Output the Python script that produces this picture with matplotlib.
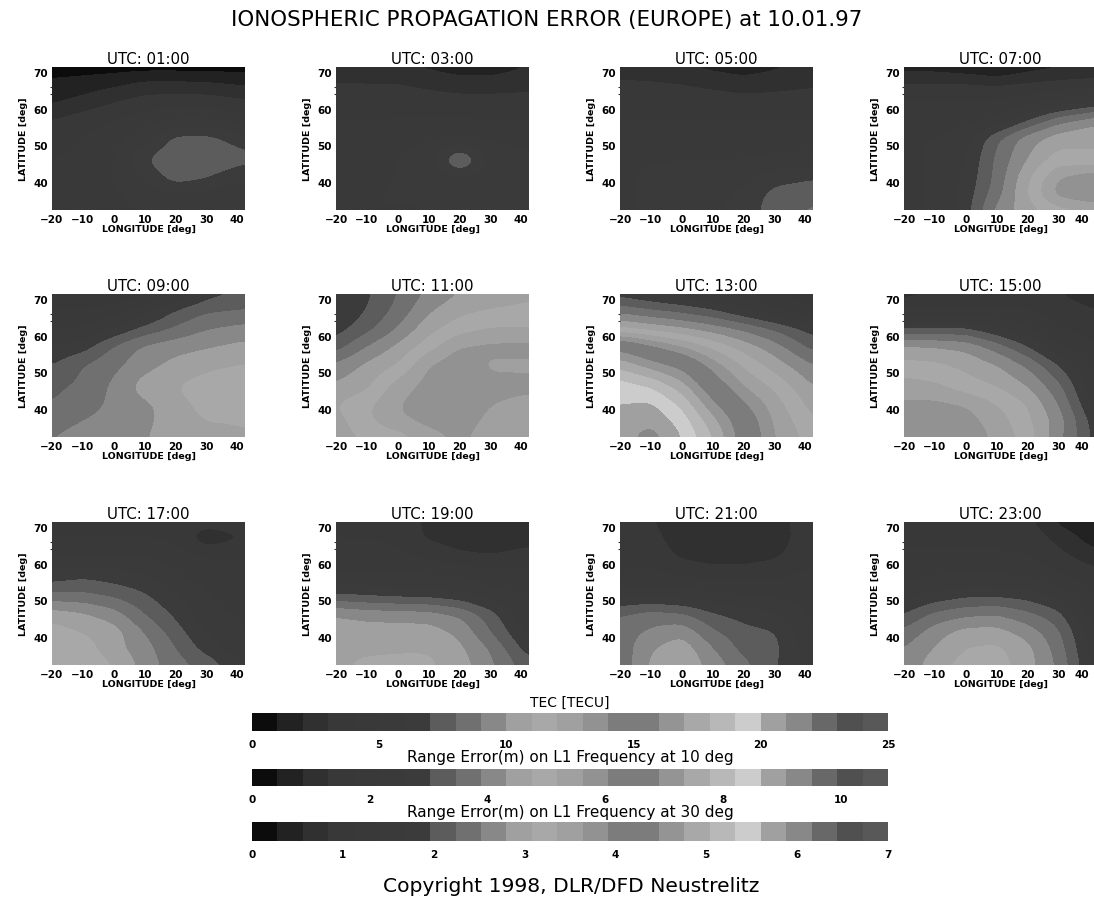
import numpy as np
import matplotlib
matplotlib.use("Agg")
import matplotlib.pyplot as plt
from matplotlib.colors import ListedColormap, BoundaryNorm

W, H = 1094, 903

# grid of the TEC maps
lons = [-20, -10, 0, 10, 20, 30, 42.5]
lats = [71.4, 67, 62, 57, 52, 46, 41, 37, 32.4]

tec_01 = [[.5, .5, .5, .5, .5, .5, .5],
          [1.2, 1.4, 1.7, 2.2, 2.2, 2.1, 1.8],
          [1.8, 2.3, 2.9, 3.4, 3.5, 3.5, 3.1],
          [3.0, 3.5, 4.0, 4.5, 5, 5, 4.5],
          [3.6, 4, 4.5, 5.5, 7.3, 7.4, 6.4],
          [4, 4.3, 5, 7.0, 7.9, 7.9, 7.4],
          [4.2, 4.5, 5, 6, 7.5, 7.0, 5.8],
          [4, 4.3, 4.8, 5.4, 5.8, 5.7, 5.4],
          [4, 4.2, 4.6, 5, 5.2, 5.2, 5.5]]
tec_03 = [[2.4, 2.2, 2.0, 1.8, 1.5, 1.5, 2.0],
          [3, 3, 3, 2.7, 2.4, 2.4, 2.6],
          [3.6, 3.6, 3.6, 3.5, 3.4, 3.4, 3.4],
          [4, 4, 4, 4, 4, 4, 4],
          [4.4, 4.5, 4.6, 4.8, 5, 4.8, 4.6],
          [4.6, 4.8, 5, 5.6, 8.4, 5.8, 5.2],
          [5, 5, 5, 5.2, 5.6, 5.5, 5],
          [5, 5, 5, 5, 5.2, 5.2, 5],
          [5, 5, 5, 5, 5, 5, 5]]
tec_05 = [[2.6, 2.4, 2, 1.7, 1.5, 1.8, 2.2],
          [3.1, 3.1, 3, 2.7, 2.4, 2.6, 2.8],
          [3.5, 3.5, 3.5, 3.5, 3.4, 3.4, 3.5],
          [4, 4, 4, 4, 4, 4, 4],
          [4.5, 4.5, 4.5, 4.5, 4.5, 4.5, 4.5],
          [5, 5, 5, 5, 5, 5.2, 5.4],
          [5, 5, 5.2, 5.4, 5.6, 6.6, 7.0],
          [5, 5, 5.2, 5.6, 6.2, 7.3, 7.5],
          [5, 5, 5.4, 5.8, 6.4, 7.5, 8.2]]
tec_07 = [[1.5, 1.5, 1.2, .8, 1.5, 1.8, 2],
          [3, 3, 3, 2.8, 3, 3.2, 3.4],
          [4, 4, 4, 4, 4.5, 5, 6],
          [4.5, 4.5, 4.6, 5, 6.8, 8.5, 9.5],
          [5, 5, 5.5, 7.8, 9.5, 10.5, 11],
          [5, 5, 6, 8.2, 10, 11.5, 11],
          [5, 5, 6.2, 8.3, 10.8, 13, 14],
          [5, 5, 6.4, 8.5, 11, 13.5, 14.2],
          [5, 5, 6.5, 9.3, 10.5, 11.5, 12]]
tec_09 = [[3, 3, 3, 3.5, 5, 6.5, 7.2],
          [4, 4, 4.5, 5.5, 7, 7.8, 8],
          [5, 5, 6, 7.2, 8.1, 8.9, 9.3],
          [6, 6.5, 8.1, 9.2, 9.6, 9.9, 10.3],
          [7, 8, 8.7, 9.6, 10.3, 10.7, 11],
          [7.8, 8.2, 9.2, 10.5, 11, 11.5, 12.2],
          [8, 8.6, 9.2, 9.7, 10.6, 11.3, 11.5],
          [8.6, 9, 9.3, 9.7, 10.6, 11, 11],
          [9, 9.3, 9.5, 9.9, 10.6, 10.8, 11]]
tec_11 = [[6, 6.8, 8, 9.2, 10, 10.5, 10.8],
          [6, 7, 8.3, 9.8, 10.7, 11, 11.2],
          [6.5, 7.6, 9, 10.6, 11.5, 12, 12],
          [7.5, 9, 10.2, 11.5, 13, 13.3, 13.3],
          [9.2, 10.2, 11, 13, 13.7, 12.8, 12.8],
          [10.2, 10.8, 12.5, 13.4, 13.5, 13.4, 13.3],
          [11, 11.8, 13, 13.5, 13.5, 13, 12.5],
          [10.6, 11.8, 12.8, 13.3, 13.4, 12.8, 12],
          [10.4, 11.2, 11.4, 12.6, 13.2, 12.5, 12]]
tec_13 = [[6.5, 6, 5.5, 5, 4.5, 4, 3.5],
          [8.5, 8, 7.6, 7, 6, 5, 4],
          [11, 10.5, 10, 9.4, 8.7, 7.8, 6.5],
          [15.5, 14.2, 13, 11.7, 10.5, 9.4, 7.6],
          [17.6, 16.5, 15.5, 13.5, 11.8, 10.5, 9],
          [19.6, 19, 17.5, 15, 13, 11.8, 10],
          [20, 20.2, 18.8, 16.3, 14.2, 12.5, 10.6],
          [20.3, 20.7, 19.5, 17.3, 15, 12.8, 11],
          [20.5, 21.5, 20, 18, 15.3, 13, 11.5]]
tec_15 = [[2.6, 3, 3.5, 3.5, 3.5, 3, 2.4],
          [4, 4, 4, 4, 4, 3.5, 3],
          [7, 7, 7, 6, 5, 4, 3.5],
          [10.2, 10, 9.7, 8.5, 7, 5, 4],
          [11.3, 11.2, 10.7, 10, 8.8, 7, 4.5],
          [12.5, 12.2, 11.5, 11, 10, 8.3, 5],
          [13.2, 13.3, 13, 12, 11, 9, 5.5],
          [13.4, 13.6, 13.4, 12.5, 11.2, 9.5, 6.2],
          [13.4, 13.7, 13.6, 12.8, 11.5, 9.3, 6.5]]
tec_17 = [[3.5, 3.5, 3.5, 3.5, 3.5, 3.5, 3.5],
          [4, 4, 4, 4, 3.8, 2.2, 3.0],
          [5, 5, 5, 5, 4.5, 4, 4],
          [6.3, 6.7, 6.4, 6, 5, 4.5, 4.2],
          [8, 8, 7.6, 7, 6, 5, 4.5],
          [10.6, 10.2, 9.5, 8, 6.8, 5.3, 4.8],
          [11.5, 11, 10.5, 9, 7.5, 6, 5],
          [11.8, 11.5, 10.3, 9.4, 8, 6.5, 5],
          [12, 11.8, 11, 9.6, 8.4, 7.7, 6]]
tec_19 = [[3.5, 3.5, 3.5, 2.8, 2.5, 2.4, 2.6],
          [4, 4, 3.8, 2.8, 2.5, 2.4, 2.6],
          [4.5, 4.5, 4.2, 3.8, 3.2, 3, 3.4],
          [5, 5, 5, 5, 4.8, 4.5, 4.5],
          [6.8, 6.6, 6.4, 6.3, 6, 5.2, 4.8],
          [10, 9.7, 9.6, 9.5, 8.9, 7.5, 5],
          [10.6, 10.5, 10.5, 10.5, 9.8, 8, 5.8],
          [10.8, 10.8, 10.9, 10.9, 10.2, 8.9, 6.4],
          [10.8, 11.2, 11.2, 11.2, 10.5, 9.2, 7.4]]
tec_21 = [[3.5, 3, 2.8, 2.6, 2.6, 2.6, 3.6],
          [3.6, 3.2, 2.6, 2.5, 2.4, 2.5, 3.6],
          [3.8, 3.6, 2.8, 2.5, 2.5, 2.8, 3.8],
          [4, 4.2, 3.8, 3.6, 3.6, 3.8, 4.2],
          [5.4, 5.5, 5.3, 5, 4.8, 4.6, 4.5],
          [8, 8.5, 8.2, 7.2, 6.6, 6.2, 4.8],
          [8.5, 9.2, 9.8, 8.2, 7.4, 7.1, 5],
          [8.3, 9.9, 10.6, 9, 7.6, 7.3, 5.2],
          [8.2, 10.2, 10.9, 9.6, 8.3, 7.1, 5.5]]
tec_23 = [[3.5, 3.5, 3.5, 3.5, 3.3, 1.7, 1.3],
          [4, 4, 4, 4, 3.7, 2.7, 1.3],
          [4, 4, 4, 4, 4, 3.3, 2.4],
          [4.5, 5, 5, 5, 4.8, 4, 3.3],
          [5.5, 6, 6.5, 6.5, 6.3, 5.4, 3.8],
          [7, 8.3, 8.8, 9, 8.3, 7.4, 4],
          [8.3, 9.6, 10.5, 10.5, 9.6, 8.2, 5],
          [9, 10, 11, 11.2, 10.3, 8.5, 5.2],
          [9.2, 10.6, 11.4, 11.5, 10.4, 8.8, 5.5]]

maps = [tec_01, tec_03, tec_05, tec_07, tec_09, tec_11,
        tec_13, tec_15, tec_17, tec_19, tec_21, tec_23]
hours = ["01", "03", "05", "07", "09", "11", "13", "15", "17", "19", "21", "23"]

# grey level of each 1 TECU band, 0-25
band_grey = [0x0c, 0x22, 0x30, 0x38, 0x39, 0x3a, 0x3b, 0x5c, 0x70, 0x88,
             0xa0, 0xa8, 0xa0, 0x92, 0x7c, 0x7c, 0x94, 0xa8, 0xb8, 0xcc,
             0xa0, 0x88, 0x68, 0x50, 0x58]

bar_titles = ["TEC [TECU]", "Range Error(m) on L1 Frequency at 10 deg",
              "Range Error(m) on L1 Frequency at 30 deg"]
bar_max = [25, 10.8, 7]
bar_ticks = [[0, 5, 10, 15, 20, 25], [0, 2, 4, 6, 8, 10], [0, 1, 2, 3, 4, 5, 6, 7]]

cmap = ListedColormap([(g / 255, g / 255, g / 255) for g in band_grey])
levels = np.arange(26)
norm = BoundaryNorm(levels, cmap.N)

fine_lon = np.arange(-20, 42.51, 0.5)
fine_lat = np.arange(32.4, 71.41, 0.5)


def box(a, n):
    # moving average along the first axis, edges held
    pad = np.concatenate([np.repeat(a[:1], n, axis=0), a, np.repeat(a[-1:], n, axis=0)])
    out = np.apply_along_axis(lambda v: np.convolve(v, np.ones(n) / n, mode="same"), 0, pad)
    return out[n:-n]


def smooth_map(tec):
    # rounds the contours of a coarse map for drawing, like the original's finer grid
    z = np.array(tec)[::-1]
    z = np.array([np.interp(fine_lon, lons, row) for row in z])
    z = np.array([np.interp(fine_lat, lats[::-1], col) for col in z.T]).T
    z = box(box(z, 7), 7)
    z = box(box(z.T, 9), 9).T
    return z


def px_axes(x0, y0, x1, y1):
    # axes from pixel box, y counted from the top
    return fig.add_axes([x0 / W, 1 - y1 / H, (x1 - x0) / W, (y1 - y0) / H])


fig = plt.figure(figsize=(W / 100, H / 100), dpi=100)

col_x = [52, 336, 620, 904]
row_y = [68, 295, 523]

for i in range(12):
    r, c = i // 4, i % 4
    x0, y0 = col_x[c], row_y[r]
    ax = px_axes(x0, y0, x0 + 193, y0 + 143)
    ax.contourf(fine_lon, fine_lat, smooth_map(maps[i]), levels=levels, cmap=cmap, norm=norm)
    ax.set_xlim(-20, 42.5)
    ax.set_ylim(32.4, 71.4)
    ax.set_xticks([-20, -10, 0, 10, 20, 30, 40])
    ax.set_yticks([40, 50, 60, 70])
    ax.set_yticks([64, 66], minor=True)
    ax.tick_params(axis="both", which="major", length=0, pad=3, labelsize=7.5)
    ax.tick_params(axis="y", which="minor", length=1.5, width=0.8, color="#333333")
    for lab in ax.get_xticklabels() + ax.get_yticklabels():
        lab.set_fontweight("bold")
    if c == 3:
        ax.get_xticklabels()[-1].set_ha("right")
    for s in ax.spines.values():
        s.set_visible(False)
    ax.set_title("UTC: %s:00" % hours[i], fontsize=10.8, pad=3)
    ax.set_xlabel("LONGITUDE [deg]", fontsize=6.8, fontweight="bold", labelpad=0)
    ax.set_ylabel("LATITUDE [deg]", fontsize=6.8, fontweight="bold", labelpad=4)

# the three scale bars
bar_y = [(714, 732), (770, 787), (823, 842)]
title_y = [703, 758, 812]
for k in range(3):
    ax = px_axes(252, bar_y[k][0], 888, bar_y[k][1])
    edges = np.linspace(0, bar_max[k], 26)
    ax.pcolormesh(edges, [0, 1], [np.arange(25) + 0.5], cmap=cmap, norm=norm)
    ax.set_xlim(0, bar_max[k])
    ax.set_yticks([])
    ax.set_xticks(bar_ticks[k])
    ax.tick_params(axis="x", length=0, pad=6, labelsize=7.5)
    for lab in ax.get_xticklabels():
        lab.set_fontweight("bold")
    for s in ax.spines.values():
        s.set_visible(False)
    fig.text(570 / W, 1 - title_y[k] / H, bar_titles[k], ha="center", va="center",
             fontsize=11 if k else 10)

fig.text(547 / W, 1 - 20 / H, "IONOSPHERIC PROPAGATION ERROR (EUROPE) at 10.01.97",
         ha="center", va="center", fontsize=15.4)
fig.text(571 / W, 1 - 887 / H, "Copyright 1998, DLR/DFD Neustrelitz",
         ha="center", va="center", fontsize=14.6)

fig.savefig("out.png", dpi=100)
